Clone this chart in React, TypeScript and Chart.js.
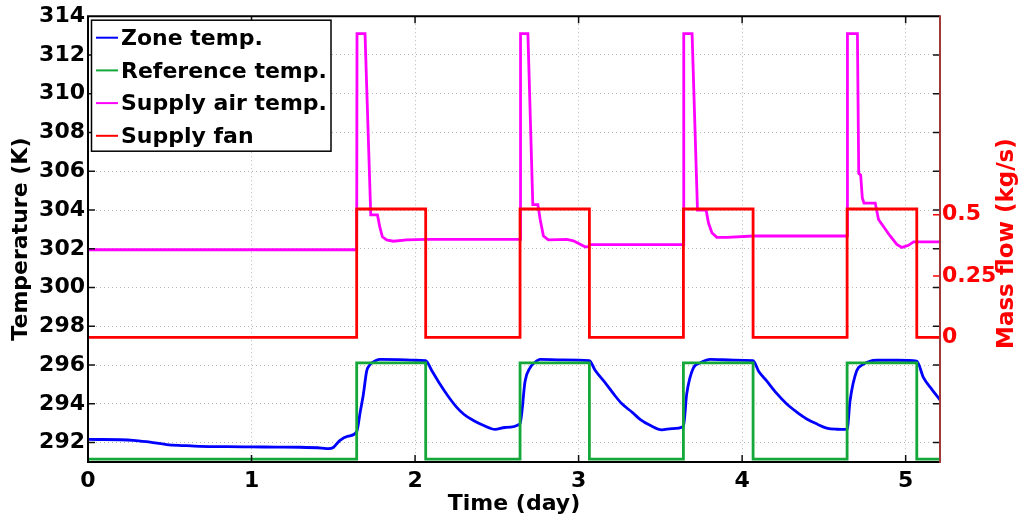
import React, { useEffect, useRef } from 'react';
import { Chart, registerables } from 'chart.js';

Chart.register(...registerables);

// ---------- data ----------
const xTicks = [0, 1, 2, 3, 4, 5];
const tempTicks = [292, 294, 296, 298, 300, 302, 304, 306, 308, 310, 312, 314];
const flowTicks = [0, 0.25, 0.5];
const flowTickLabels = ['0', '0.25', '0.5'];

const seriesLabels = ['Zone temp.', 'Reference temp.', 'Supply air temp.', 'Supply fan'];

const zoneTime = [0, 0.277, 0.38, 0.481, 0.585, 0.685, 0.85, 0.997, 1.15, 1.297, 1.43, 1.47, 1.5, 1.541, 1.59, 1.643, 1.665, 1.684, 1.704, 1.72, 1.735, 1.76, 1.786, 1.9, 2.0, 2.065, 2.1, 2.153, 2.2, 2.255, 2.3, 2.357, 2.42, 2.49, 2.55, 2.642, 2.673, 2.703, 2.73, 2.765, 2.9, 3.066, 3.1, 3.17, 3.22, 3.265, 3.33, 3.376, 3.44, 3.509, 3.57, 3.641, 3.661, 3.702, 3.743, 3.804, 3.95, 4.067, 4.1, 4.15, 4.21, 4.273, 4.33, 4.395, 4.46, 4.517, 4.58, 4.642, 4.66, 4.7, 4.74, 4.78, 4.823, 4.95, 5.068, 5.109, 5.16, 5.21];
const zoneTemp = [292.17, 292.12, 292.02, 291.9, 291.85, 291.81, 291.79, 291.78, 291.77, 291.76, 291.72, 291.69, 291.75, 292.12, 292.33, 292.56, 293.6, 294.5, 295.69, 295.98, 296.11, 296.24, 296.29, 296.28, 296.25, 296.23, 295.75, 295.01, 294.42, 293.82, 293.45, 293.14, 292.88, 292.68, 292.78, 292.97, 295.18, 295.86, 296.12, 296.29, 296.27, 296.23, 295.75, 295.01, 294.45, 294.0, 293.55, 293.2, 292.88, 292.66, 292.72, 292.83, 294.5, 295.86, 296.11, 296.29, 296.26, 296.23, 295.7, 295.18, 294.55, 293.99, 293.6, 293.22, 292.95, 292.75, 292.69, 292.68, 294.16, 295.69, 296.03, 296.2, 296.25, 296.25, 296.2, 295.35, 294.75, 294.2];

const refTime = [0, 1.643, 2.065, 2.642, 3.066, 3.641, 4.067, 4.642, 5.068, 5.21];
const refTemp = [291.15, 296.11, 291.15, 296.11, 291.15, 296.11, 291.15, 296.11, 291.15, 291.15];

const supplyTime = [0, 1.643, 1.645, 1.694, 1.729, 1.77, 1.785, 1.8, 1.826, 1.867, 1.949, 2.065, 2.642, 2.645, 2.69, 2.72, 2.751, 2.765, 2.785, 2.815, 2.927, 2.968, 3.04, 3.06, 3.066, 3.641, 3.643, 3.694, 3.727, 3.78, 3.794, 3.815, 3.845, 3.91, 4.067, 4.642, 4.644, 4.705, 4.713, 4.725, 4.735, 4.745, 4.814, 4.834, 4.905, 4.946, 4.977, 5.017, 5.048, 5.21];
const supplyTemp = [301.95, 301.95, 313.1, 313.1, 303.75, 303.75, 303.1, 302.62, 302.46, 302.39, 302.46, 302.49, 302.49, 313.1, 313.1, 304.28, 304.28, 303.51, 302.66, 302.46, 302.49, 302.41, 302.1, 302.1, 302.22, 302.22, 313.1, 313.1, 303.99, 303.99, 303.34, 302.83, 302.59, 302.59, 302.66, 302.66, 313.1, 313.1, 305.89, 305.8, 304.62, 304.36, 304.36, 303.51, 302.66, 302.23, 302.07, 302.18, 302.36, 302.36];

const fanTime = [0, 1.643, 2.065, 2.642, 3.066, 3.641, 4.067, 4.642, 5.068, 5.21];
const fanFlow = [0, 0.523, 0, 0.523, 0, 0.523, 0, 0.523, 0, 0];

// ---------- style ----------
const FAMILY = "'DejaVu Sans', sans-serif";
const COLORS = ['#0000ff', '#14a83a', '#ff00ff', '#ff0000'];
const RIGHT_AXIS_COLOR = '#a03a3a';

const pts = (t: number[], v: number[]) => t.map((x, i) => ({ x, y: v[i] }));

const framePlugin = {
  id: 'frame',
  afterDatasetsDraw(chart: any) {
    const { ctx, chartArea: a, scales } = chart;
    const sx = scales.x, sy = scales.y, sy2 = scales.y2;
    const TL = 7;
    ctx.save();
    ctx.lineWidth = 1.5;
    ctx.strokeStyle = '#111';
    ctx.beginPath();
    xTicks.forEach((v) => {
      const px = sx.getPixelForValue(v);
      if (px <= a.left + 1 || px >= a.right - 1) return;
      ctx.moveTo(px, a.bottom); ctx.lineTo(px, a.bottom - TL);
      ctx.moveTo(px, a.top); ctx.lineTo(px, a.top + TL);
    });
    tempTicks.forEach((v) => {
      const py = sy.getPixelForValue(v);
      if (py <= a.top + 1 || py >= a.bottom - 1) return;
      ctx.moveTo(a.left, py); ctx.lineTo(a.left + TL, py);
      ctx.moveTo(a.right, py); ctx.lineTo(a.right - TL, py);
    });
    ctx.stroke();
    ctx.strokeStyle = '#ff0000';
    ctx.beginPath();
    flowTicks.forEach((v) => {
      const py = sy2.getPixelForValue(v);
      ctx.moveTo(a.right, py); ctx.lineTo(a.right - TL, py);
    });
    ctx.stroke();
    ctx.lineWidth = 2;
    ctx.strokeStyle = '#000';
    ctx.beginPath();
    ctx.moveTo(a.right, a.top); ctx.lineTo(a.left, a.top);
    ctx.lineTo(a.left, a.bottom); ctx.lineTo(a.right, a.bottom);
    ctx.stroke();
    ctx.strokeStyle = RIGHT_AXIS_COLOR;
    ctx.beginPath();
    ctx.moveTo(a.right, a.top - 1); ctx.lineTo(a.right, a.bottom + 1);
    ctx.stroke();
    ctx.restore();
  },
};

const legendPlugin = {
  id: 'boxLegend',
  afterDraw(chart: any) {
    const { ctx, chartArea: a } = chart;
    const bx = a.left + 3.5, by = a.top + 4, bw = 239.5, bh = 131;
    ctx.save();
    ctx.fillStyle = '#fff';
    ctx.fillRect(bx, by, bw, bh);
    ctx.lineWidth = 1.5;
    ctx.strokeStyle = '#000';
    ctx.strokeRect(bx, by, bw, bh);
    ctx.font = `bold 22px ${FAMILY}`;
    ctx.textBaseline = 'middle';
    ctx.textAlign = 'left';
    chart.data.datasets.forEach((ds: any, i: number) => {
      const yy = by + 17.5 + i * 32.7;
      ctx.strokeStyle = ds.borderColor;
      ctx.lineWidth = 2;
      ctx.beginPath();
      ctx.moveTo(bx + 4.5, yy); ctx.lineTo(bx + 26.5, yy);
      ctx.stroke();
      ctx.fillStyle = '#000';
      ctx.fillText(ds.label, bx + 29.5, yy + 1.5);
    });
    ctx.restore();
  },
};

const rightTitlePlugin = {
  id: 'rightTitle',
  afterDraw(chart: any) {
    const { ctx, chartArea: a } = chart;
    ctx.save();
    ctx.translate(a.right + 67, (a.top + a.bottom) / 2 + 4.5);
    ctx.rotate(-Math.PI / 2);
    ctx.font = `bold 23px ${FAMILY}`;
    ctx.fillStyle = '#ff0000';
    ctx.textAlign = 'center';
    ctx.textBaseline = 'middle';
    ctx.fillText('Mass flow (kg/s)', 0, 0);
    ctx.restore();
  },
};

export default function App() {
  const ref = useRef<HTMLCanvasElement | null>(null);
  useEffect(() => {
    if (!ref.current) return;
    const tickFont = { family: FAMILY, size: 22, weight: 'bold' as const };
    const titleFont = { family: FAMILY, size: 22, weight: 'bold' as const };
    const gridStyle = { color: '#b8b8b8', lineWidth: 1, drawTicks: false };
    const chart = new Chart(ref.current, {
      type: 'line',
      data: {
        datasets: [
          { label: seriesLabels[0], data: pts(zoneTime, zoneTemp), borderColor: COLORS[0], yAxisID: 'y', order: 3, cubicInterpolationMode: 'monotone' },
          { label: seriesLabels[1], data: pts(refTime, refTemp), borderColor: COLORS[1], yAxisID: 'y', stepped: 'before', order: 2 },
          { label: seriesLabels[2], data: pts(supplyTime, supplyTemp), borderColor: COLORS[2], yAxisID: 'y', order: 1 },
          { label: seriesLabels[3], data: pts(fanTime, fanFlow), borderColor: COLORS[3], yAxisID: 'y2', stepped: 'before', order: 0 },
        ],
      },
      options: {
        animation: false,
        responsive: true,
        maintainAspectRatio: false,
        layout: { padding: { top: 12, left: 0, right: 0, bottom: 0 } },
        elements: {
          point: { radius: 0, hoverRadius: 0 },
          line: { tension: 0, borderWidth: 2.8, fill: false },
        },
        plugins: {
          legend: { display: false },
          tooltip: { enabled: false },
        },
        scales: {
          x: {
            type: 'linear',
            min: 0,
            max: 5.21,
            afterBuildTicks: (s: any) => { s.ticks = xTicks.map((value) => ({ value })); },
            afterFit: (s: any) => { s.height = 60; },
            ticks: { font: tickFont, color: '#000', padding: 6, maxRotation: 0, autoSkip: false, callback: (v: any) => String(v) },
            grid: gridStyle,
            border: { display: false, dash: [1, 3] },
            title: { display: true, text: 'Time (day)', font: titleFont, color: '#000', padding: { top: 0, bottom: 5 } },
          },
          y: {
            type: 'linear',
            position: 'left',
            min: 291,
            max: 314,
            afterBuildTicks: (s: any) => { s.ticks = tempTicks.map((value) => ({ value })); },
            afterFit: (s: any) => { s.width = 88; },
            ticks: { font: tickFont, color: '#000', padding: 3, autoSkip: false, callback: (v: any) => String(v) },
            grid: gridStyle,
            border: { display: false, dash: [1, 3] },
            title: { display: true, text: 'Temperature (K)', font: titleFont, color: '#000', padding: { top: 8, bottom: 0 } },
          },
          y2: {
            type: 'linear',
            position: 'right',
            min: -0.507,
            max: 1.308,
            afterBuildTicks: (s: any) => { s.ticks = flowTicks.map((value) => ({ value })); },
            afterFit: (s: any) => { s.width = 87; },
            ticks: {
              font: tickFont,
              color: '#ff0000',
              padding: 2,
              autoSkip: false,
              callback: (v: any) => flowTickLabels[flowTicks.indexOf(Number(v))] ?? String(v),
            },
            grid: { drawOnChartArea: false, drawTicks: false },
            border: { display: false },
          },
        },
      },
      plugins: [framePlugin, legendPlugin, rightTitlePlugin],
    } as any);
    return () => chart.destroy();
  }, []);

  return (
    <div style={{ position: 'absolute', left: 0, top: 0, width: 1027, height: 522, background: '#fff' }}>
      <canvas ref={ref} />
    </div>
  );
}
